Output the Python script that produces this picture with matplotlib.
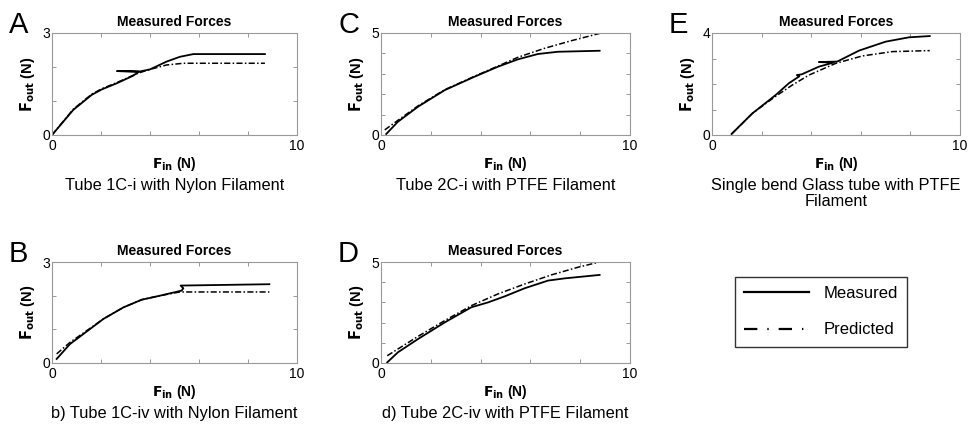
import matplotlib
matplotlib.use("Agg")
import matplotlib.pyplot as plt
from matplotlib.lines import Line2D

plt.rcParams['font.family'] = ['Liberation Sans', 'DejaVu Sans']

# Panel A - Tube 1C-i, nylon
a_meas_x = [0.0, 0.87, 1.62, 2.03, 2.64, 3.3, 3.55, 2.65, 3.6, 4.0, 4.68, 5.22, 5.77, 8.69]
a_meas_y = [0.0, 0.74, 1.18, 1.34, 1.52, 1.74, 1.86, 1.88, 1.87, 1.93, 2.16, 2.30, 2.38, 2.38]
a_pred_x = [0.0, 0.87, 1.62, 2.03, 2.64, 3.52, 4.0, 4.68, 5.36, 8.69]
a_pred_y = [0.0, 0.76, 1.20, 1.36, 1.54, 1.82, 1.93, 2.06, 2.11, 2.11]

# Panel B - Tube 1C-iv, nylon
b_meas_x = [0.19, 0.73, 1.28, 2.1, 2.91, 3.66, 4.41, 5.29, 5.36, 5.25, 8.87]
b_meas_y = [0.12, 0.56, 0.86, 1.31, 1.65, 1.88, 2.0, 2.15, 2.22, 2.30, 2.34]
b_pred_x = [0.19, 0.73, 1.28, 2.1, 2.91, 3.66, 4.41, 5.22, 8.87]
b_pred_y = [0.27, 0.61, 0.89, 1.31, 1.65, 1.88, 2.0, 2.11, 2.11]

# Panel C - Tube 2C-i, PTFE
c_meas_x = [0.21, 0.68, 1.49, 2.56, 3.76, 4.7, 5.5, 6.3, 7.1, 8.78]
c_meas_y = [0.05, 0.65, 1.39, 2.2, 2.86, 3.35, 3.71, 3.97, 4.08, 4.13]
c_pred_x = [0.15, 0.68, 1.49, 2.56, 3.76, 4.7, 5.5, 6.57, 7.64, 8.78]
c_pred_y = [0.25, 0.72, 1.43, 2.22, 2.88, 3.38, 3.81, 4.25, 4.62, 4.98]

# Panel D - Tube 2C-iv, PTFE
d_meas_x = [0.25, 0.68, 1.49, 2.56, 3.63, 4.3, 4.97, 5.77, 6.71, 7.38, 8.78]
d_meas_y = [0.03, 0.53, 1.19, 2.01, 2.76, 3.0, 3.3, 3.7, 4.08, 4.19, 4.36]
d_pred_x = [0.25, 1.49, 2.56, 3.63, 4.7, 5.77, 6.84, 7.91, 8.78]
d_pred_y = [0.36, 1.32, 2.1, 2.84, 3.42, 3.91, 4.36, 4.74, 5.0]

# Panel E - single bend glass tube, PTFE
e_meas_x = [0.79, 1.63, 2.57, 3.1, 3.52, 3.42, 3.62, 4.31, 4.9, 4.31, 5.05, 5.93, 7.0, 7.94, 8.78]
e_meas_y = [0.04, 0.85, 1.57, 2.03, 2.3, 2.35, 2.38, 2.68, 2.84, 2.86, 2.88, 3.31, 3.66, 3.83, 3.88]
e_pred_x = [0.79, 1.63, 2.57, 3.24, 3.91, 4.99, 6.06, 7.27, 8.78]
e_pred_y = [0.04, 0.85, 1.52, 1.96, 2.35, 2.81, 3.1, 3.27, 3.31]

letters = ['A', 'B', 'C', 'D', 'E']
captions = ['Tube 1C-i with Nylon Filament',
            'b) Tube 1C-iv with Nylon Filament',
            'Tube 2C-i with PTFE Filament',
            'd) Tube 2C-iv with PTFE Filament',
            'Single bend Glass tube with PTFE\nFilament']
ymaxes = [3, 3, 5, 5, 4]
series = [(a_meas_x, a_meas_y, a_pred_x, a_pred_y),
          (b_meas_x, b_meas_y, b_pred_x, b_pred_y),
          (c_meas_x, c_meas_y, c_pred_x, c_pred_y),
          (d_meas_x, d_meas_y, d_pred_x, d_pred_y),
          (e_meas_x, e_meas_y, e_pred_x, e_pred_y)]

W, H = 969, 424
# axes boxes in pixels: left, right, top, bottom
boxes = [(52, 297, 33, 135), (52, 297, 262, 363),
         (381, 630, 33, 135), (381, 630, 262, 363),
         (712, 960, 33, 135)]

fig = plt.figure(figsize=(W / 100, H / 100), dpi=100)
pred_dash = (0, (4, 1.5, 1, 1.5))

for i in range(5):
    l, r, t, b = boxes[i]
    ax = fig.add_axes([l / W, 1 - b / H, (r - l) / W, (b - t) / H])
    mx, my, px, py = series[i]
    ax.plot(px, py, color='black', lw=1.1, linestyle=pred_dash)
    ax.plot(mx, my, color='black', lw=1.3)
    ax.set_xlim(0, 10)
    ax.set_ylim(0, ymaxes[i])
    ax.set_xticks(range(0, 11, 2))
    ax.set_xticklabels(['0', '', '', '', '', '10'])
    ax.set_yticks(range(0, ymaxes[i] + 1))
    ax.set_yticklabels(['0'] + [''] * (ymaxes[i] - 1) + [str(ymaxes[i])])
    ax.tick_params(direction='in', length=3, width=0.6, color='#888888',
                   top=True, right=True, labelsize=10, pad=1)
    ax.tick_params(axis='x', pad=3)
    for s in ax.spines.values():
        s.set_color('#999999')
        s.set_linewidth(0.8)
    ax.set_title('Measured Forces', fontsize=10, fontweight='bold', pad=5)
    ax.set_ylabel(r'$\mathbf{F_{out}}$ (N)', fontsize=10.5, fontweight='bold', labelpad=4)
    ax.set_xlabel(r'$\mathbf{F_{in}}$ (N)', fontsize=10, fontweight='bold', labelpad=1)
    fig.text((l + r) / 2 / W, 1 - (b + 43) / H, captions[i], ha='center', va='top',
             fontsize=11.8, linespacing=1.05)
    fig.text((l - 43) / W, 1 - t / H, letters[i], ha='left', va='baseline',
             fontsize=21)

handles = [Line2D([], [], color='black', lw=1.6),
           Line2D([], [], color='black', lw=1.6, linestyle=(0, (6, 4.5, 0.6, 4.5)))]
leg = fig.legend(handles, ['Measured', 'Predicted'], loc='center',
                 bbox_to_anchor=(821 / W, 1 - 311.5 / H), fontsize=12,
                 handlelength=3.9, frameon=True, fancybox=False,
                 edgecolor='black', borderpad=0.55, labelspacing=1.3,
                 handletextpad=0.9)
leg.get_frame().set_linewidth(1.0)

fig.savefig('out.png', dpi=100)
